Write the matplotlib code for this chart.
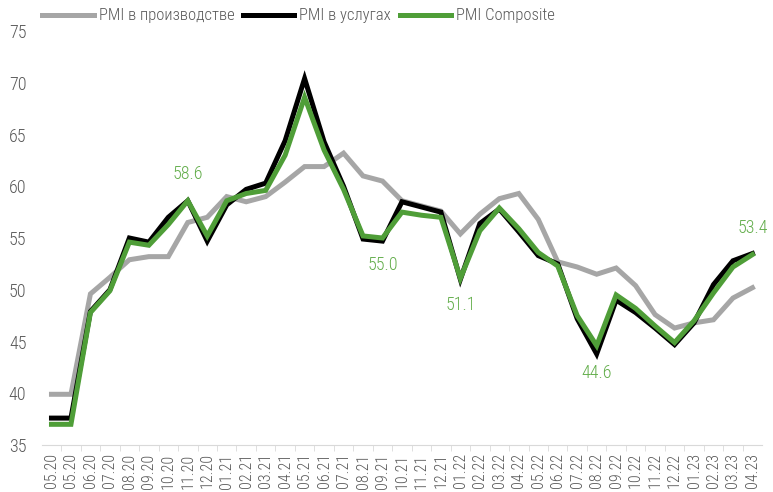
import matplotlib
matplotlib.use("Agg")
import matplotlib.pyplot as plt

plt.rcParams['font.family'] = ['Roboto Condensed', 'Roboto', 'DejaVu Sans']
plt.rcParams['font.weight'] = 'light'

months = ["05.20", "05.20", "06.20", "07.20", "08.20", "09.20", "10.20", "11.20", "12.20",
          "01.21", "02.21", "03.21", "04.21", "05.21", "06.21", "07.21", "08.21", "09.21",
          "10.21", "11.21", "12.21", "01.22", "02.22", "03.22", "04.22", "05.22", "06.22",
          "07.22", "08.22", "09.22", "10.22", "11.22", "12.22", "01.23", "02.23", "03.23",
          "04.23"]

pmi_manuf = [39.9, 39.9, 49.6, 51.2, 52.9, 53.2, 53.2, 56.5, 57.0, 59.0, 58.5, 59.0, 60.4,
             61.9, 61.9, 63.2, 61.0, 60.5, 58.6, 58.1, 57.6, 55.4, 57.3, 58.8, 59.3, 56.8,
             52.7, 52.2, 51.5, 52.1, 50.4, 47.6, 46.3, 46.8, 47.1, 49.2, 50.2]

pmi_serv = [37.6, 37.6, 47.9, 50.0, 55.0, 54.6, 57.0, 58.6, 54.7, 58.2, 59.7, 60.3, 64.4,
            70.4, 64.3, 60.0, 54.9, 54.7, 58.5, 58.0, 57.5, 51.0, 56.4, 57.8, 55.6, 53.3,
            52.5, 47.2, 43.8, 49.0, 47.8, 46.3, 44.7, 46.8, 50.5, 52.8, 53.5]

pmi_comp = [37.0, 37.0, 47.8, 49.9, 54.6, 54.3, 56.3, 58.6, 55.2, 58.6, 59.3, 59.6, 63.0,
            68.6, 63.5, 59.7, 55.2, 55.0, 57.5, 57.2, 57.0, 51.1, 55.7, 57.9, 55.9, 53.6,
            52.3, 47.5, 44.6, 49.5, 48.2, 46.5, 44.9, 47.0, 49.7, 52.2, 53.4]

# labelled points: (index, above?)
labelled = [(7, True), (17, False), (21, False), (28, False), (36, True)]

green = "#4f9e38"
label_green = "#62ad4a"
grey = "#a6a6a6"
text_grey = "#595959"

fig = plt.figure(figsize=(7.73, 4.92), dpi=100)
ax = fig.add_axes([0.054, 0.0955, 0.932, 0.8415])

x = list(range(len(months)))
ax.plot(x, pmi_manuf, color=grey, lw=3.6, label="PMI в производстве", solid_joinstyle="miter")
ax.plot(x, pmi_serv, color="black", lw=3.6, label="PMI в услугах", solid_joinstyle="miter")
ax.plot(x, pmi_comp, color=green, lw=3.6, label="PMI Composite", solid_joinstyle="miter")

for i, above in labelled:
    off = 13 if above else -13
    ax.annotate(f"{pmi_comp[i]:.1f}", (i, pmi_comp[i]), xytext=(0, off),
                textcoords="offset points", ha="center",
                va="bottom" if above else "top", color=label_green, fontsize=13)

ax.set_xlim(-0.5, len(months) - 0.5)
ax.set_ylim(35, 75)
ax.set_yticks(range(35, 76, 5))
ax.set_xticks(x)
ax.set_xticklabels(months, rotation=90, fontsize=11.5, color=text_grey)
ax.set_xticks([i + 0.5 for i in x[:-1]], minor=True)
ax.tick_params(axis="x", which="major", length=0, pad=6)
ax.tick_params(axis="x", which="minor", length=4, color="#d9d9d9", direction="out")
ax.tick_params(axis="y", length=0, labelsize=13, labelcolor=text_grey, pad=11)

for s in ["top", "right", "left"]:
    ax.spines[s].set_visible(False)
ax.spines["bottom"].set_color("#d9d9d9")

ax.legend(loc="lower left", bbox_to_anchor=(-0.01, 1.0), ncol=3, frameon=False,
          fontsize=12, handlelength=3.1, handletextpad=0.3, columnspacing=0.5,
          borderaxespad=0.05, labelcolor=text_grey)

fig.savefig("out.png", dpi=100)
